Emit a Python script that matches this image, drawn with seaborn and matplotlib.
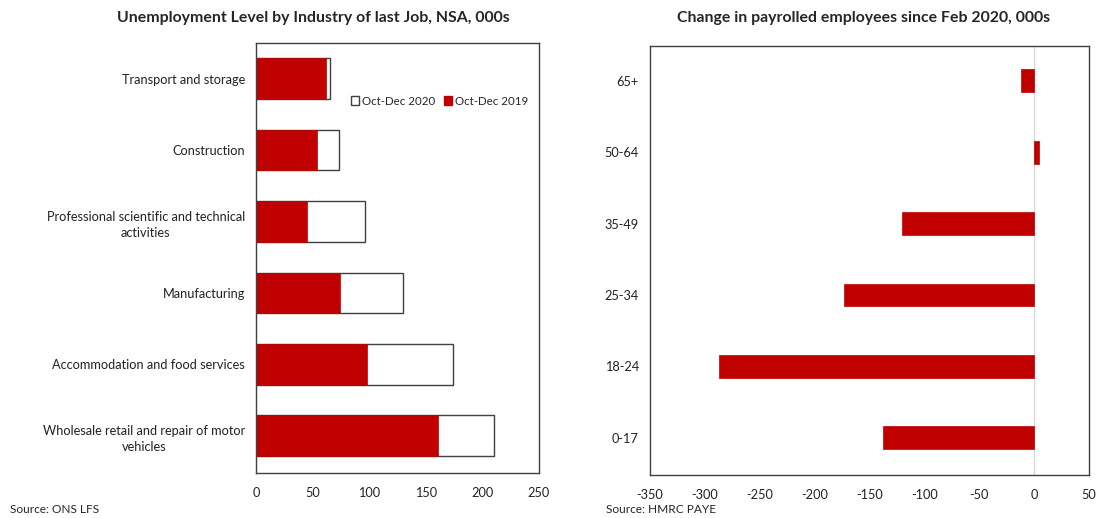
import matplotlib
matplotlib.use("Agg")
import matplotlib.pyplot as plt
from matplotlib.patches import Patch
import seaborn as sns
import pandas as pd

sns.set_style("white")
plt.rcParams["font.family"] = ["Lato", "DejaVu Sans"]
plt.rcParams["axes.unicode_minus"] = False

# Unemployment level by industry of last job (000s)
industries = [
    "Transport and storage",
    "Construction",
    "Professional scientific and technical\nactivities",
    "Manufacturing",
    "Accommodation and food services",
    "Wholesale retail and repair of motor\nvehicles",
]
oct_dec_2019 = [62, 54, 45, 74, 98, 161]
oct_dec_2020 = [65, 73, 96, 130, 174, 210]

# Change in payrolled employees since Feb 2020 by age group (000s)
age_groups = ["65+", "50-64", "35-49", "25-34", "18-24", "0-17"]
payroll_change = [-11.5, 4, -120, -173, -287, -138]

RED = "#C00000"
FRAME = "#404040"

fig = plt.figure(figsize=(10.99, 5.18), dpi=100)
ax1 = fig.add_axes([0.2329, 0.0869, 0.2575, 0.8301])
ax2 = fig.add_axes([0.5914, 0.0830, 0.3995, 0.8288])

df1 = pd.DataFrame({"industry": industries, "y2019": oct_dec_2019, "y2020": oct_dec_2020})
sns.barplot(data=df1, x="y2020", y="industry", order=industries, orient="h",
            color="white", edgecolor=FRAME, linewidth=1.0, width=0.57,
            saturation=1, ax=ax1)
sns.barplot(data=df1, x="y2019", y="industry", order=industries, orient="h",
            color=RED, edgecolor=RED, linewidth=0.5, width=0.57,
            saturation=1, ax=ax1)
ax1.set_xlim(0, 250)
ax1.set_ylim(5.52, -0.5)
ax1.set_xticks(range(0, 251, 50))
ax1.set_xlabel("")
ax1.set_ylabel("")
for lbl in ax1.get_yticklabels():
    lbl.set_multialignment("center")
    lbl.set_linespacing(1.45)
ax1.legend(handles=[Patch(facecolor="white", edgecolor=FRAME, label="Oct-Dec 2020"),
                    Patch(facecolor=RED, edgecolor=RED, label="Oct-Dec 2019")],
           loc="center left", bbox_to_anchor=(0.337, 0.865), ncol=2, frameon=False,
           borderpad=0, borderaxespad=0,
           handlelength=0.7, handleheight=0.7, handletextpad=0.2, columnspacing=0.8,
           fontsize=8.3)

df2 = pd.DataFrame({"age": age_groups, "change": payroll_change})
ax2.axvline(0, color="#d9d9d9", linewidth=1, zorder=0)
sns.barplot(data=df2, x="change", y="age", order=age_groups, orient="h",
            color=RED, edgecolor=RED, linewidth=0.5, width=0.32,
            saturation=1, ax=ax2)
ax2.set_xlim(-350, 50)
ax2.set_ylim(5.52, -0.49)
ax2.set_xticks(range(-350, 51, 50))
ax2.set_xlabel("")
ax2.set_ylabel("")

for ax in (ax1, ax2):
    for sp in ax.spines.values():
        sp.set_visible(True)
        sp.set_color(FRAME)
        sp.set_linewidth(1.0)
    ax.tick_params(axis="y", length=0, labelsize=9.2, colors="#222222", pad=8)
    ax.tick_params(axis="x", length=0, labelsize=9.2, colors="#222222", pad=10)

fig.text(0.285, 0.965, "Unemployment Level by Industry of last Job, NSA, 000s",
         ha="center", va="center", fontsize=11.4, fontweight="bold")
fig.text(0.786, 0.965, "Change in payrolled employees since Feb 2020, 000s",
         ha="center", va="center", fontsize=11.4, fontweight="bold")
fig.text(0.009, 0.017, "Source: ONS LFS", ha="left", va="center", fontsize=8.6)
fig.text(0.551, 0.017, "Source: HMRC PAYE", ha="left", va="center", fontsize=8.6)

fig.savefig("out.png", dpi=100, facecolor="white")
